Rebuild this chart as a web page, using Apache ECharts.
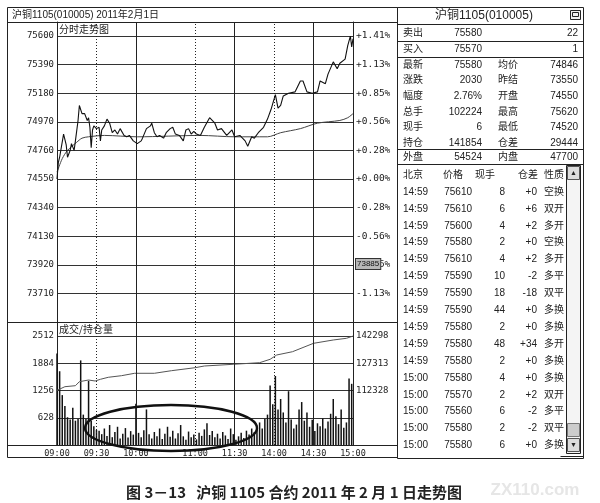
<!DOCTYPE html>
<html>
<head>
<meta charset="utf-8">
<script src="https://cdn.jsdelivr.net/npm/echarts@6/dist/echarts.min.js"></script>
<style>
  html, body { margin: 0; padding: 0; background: #fff; }
  #chart { width: 600px; height: 503px; }
</style>
</head>
<body>
<div id="chart"></div>
<script>
// 分时价格
const priceTimes = ['09:00','09:01','09:02','09:05','09:07','09:08','09:10','09:11','09:13','09:14','09:16','09:17','09:19','09:21','09:23','09:24','09:25','09:26','09:27','09:28','09:30','09:32','09:33','09:34','09:36','09:38','09:40','09:42','09:44','09:46','09:48','09:51','09:53','09:55','09:58','10:01','10:04','10:05','10:08','10:11','10:12','10:14','10:31','10:33','10:36','10:38','10:41','10:43','10:45','10:48','10:51','10:53','10:55','10:57','10:59','11:01','11:04','11:07','11:11','11:15','11:17','11:20','11:24','11:28','11:30','13:34','13:38','13:40','13:43','13:45','13:48','13:52','13:55','13:58','14:01','14:03','14:05','14:07','14:11','14:16','14:20','14:22','14:25','14:29','14:33','14:35','14:39','14:41','14:45','14:48','14:50','14:54','14:56','14:58','14:59','15:00'];
const priceValues = [74550,74670,74710,74880,74800,74710,74760,74810,74760,74830,74980,75090,75030,75030,74980,75000,74930,74780,74910,74940,74920,74930,74830,74910,74940,74990,74960,74890,74910,74880,74920,74870,74860,74870,74830,74810,74830,74850,74920,74940,74960,74890,74860,74870,74850,74890,74920,74930,74880,74870,74830,74910,74920,74880,74900,74880,74870,74930,75000,74960,74910,74920,74870,74910,74860,74870,74830,74790,74860,74850,74890,74930,74990,75070,75170,75070,75090,75160,75180,75190,75270,75270,75190,75180,75190,75270,75250,75320,75410,75360,75400,75430,75530,75600,75520,75580];

// 均价线
const avgTimes = ['09:00','09:04','09:08','09:15','09:19','09:24','09:36','10:01','11:04','11:30','13:55','14:05','14:20','14:33','14:50','14:56','15:00'];
const avgValues = [74600,74700,74760,74820,74850,74860,74870,74860,74870,74860,74860,74890,74920,74960,74980,75000,75030];

// 成交量（每两分钟一根）
const volumeValues = [2110,1700,1150,900,640,590,860,560,600,1950,700,600,1480,560,430,350,330,250,380,210,460,180,300,420,150,260,390,170,320,240,950,280,180,340,820,250,150,300,200,380,140,260,420,190,330,150,270,460,200,120,310,180,240,130,280,210,360,500,230,320,180,260,150,300,220,140,380,250,120,200,280,160,330,240,380,300,450,520,380,600,700,1370,940,1590,820,1060,750,520,1240,590,380,470,820,990,560,750,420,580,320,500,430,610,380,540,720,1060,660,480,820,400,520,1530,1410];

// 持仓量
const oiTimes = ['09:00','09:06','09:14','09:17','09:24','09:29','09:33','09:39','09:49','09:59','10:14','10:42','11:00','11:07','11:29','13:49','13:57','14:02','14:14','14:30','14:45','14:55','15:00'];
const oiValues = [112410,114420,114970,117170,118100,117550,118490,119590,120470,121790,121790,123220,124870,125800,126740,127620,129480,131850,133660,138280,140100,141030,142250];

const axisTimes = ['09:00','09:30','10:00','11:00','11:30','14:00','14:30','15:00'];
const solidTimes = ['10:00','11:30','14:30'];
const dottedTimes = ['09:30','11:00','14:00'];
const priceTicks = [73710,73920,74130,74340,74550,74760,74970,75180,75390,75600];
const volTicks = [628,1256,1884,2512];
const oiTicks = [112328,127313,142298];
const openPrice = 74550;

// 右侧盘口
const bidAsk = [['卖出','75580','22'],['买入','75570','1']];
const quoteRows = [
  ['最新','75580','均价','74846'],
  ['涨跌','2030','昨结','73550'],
  ['幅度','2.76%','开盘','74550'],
  ['总手','102224','最高','75620'],
  ['现手','6','最低','74520'],
  ['持仓','141854','仓差','29444']
];
const outerInner = ['外盘','54524','内盘','47700'];

// 成交明细
const tradeTimes = ['14:59','14:59','14:59','14:59','14:59','14:59','14:59','14:59','14:59','14:59','14:59','15:00','15:00','15:00','15:00','15:00'];
const tradePrices = ['75610','75610','75600','75580','75610','75590','75590','75590','75580','75580','75580','75580','75570','75560','75580','75580'];
const tradeVols = ['8','6','4','2','4','10','18','44','2','48','2','4','2','6','2','6'];
const tradeDiffs = ['+0','+6','+2','+0','+2','-2','-18','+0','+0','+34','+0','+0','+2','-2','-2','+0'];
const tradeTypes = ['空换','双开','多开','空换','多开','多平','双平','多换','多换','多开','多换','多换','双开','多平','双平','多换'];

// 交易时段换算成分钟序号（9:00-10:15, 10:30-11:30, 13:30-15:00）
function toMinute(t) {
  const [h, m] = t.split(':').map(Number);
  const total = h * 60 + m;
  if (total <= 615) return total - 540;
  if (total <= 690) return total - 630 + 75;
  return total - 810 + 135;
}

const MONO = '"DejaVu Sans Mono", monospace';
const SANS = '"Liberation Sans", "Noto Sans CJK SC", sans-serif';
const INK = '#222';

function txt(x, y, s, opt) {
  return {
    type: 'text', x: x, y: y, silent: true, z: 20,
    style: Object.assign({
      text: s, fill: INK, font: '10px ' + SANS,
      align: 'left', verticalAlign: 'middle',
      textAlign: 'left', textVerticalAlign: 'middle'
    }, opt || {})
  };
}
function right(x, y, s, opt) {
  return txt(x, y, s, Object.assign({ align: 'right', textAlign: 'right' }, opt || {}));
}
function hline(x1, x2, y, color) {
  return { type: 'line', silent: true, z: 15, shape: { x1: x1, y1: y, x2: x2, y2: y }, style: { stroke: color || INK, lineWidth: 1 } };
}

function verticalMarks() {
  return {
    silent: true, symbol: ['none', 'none'], label: { show: false }, animation: false,
    data: solidTimes.map(t => ({ xAxis: toMinute(t), lineStyle: { color: INK, width: 1, type: 'solid' } }))
      .concat(dottedTimes.map(t => ({ xAxis: toMinute(t), lineStyle: { color: INK, width: 1, type: [1, 2] } })))
  };
}

const plain = v => String(v);

const graphics = [];
// 左侧框架
graphics.push({ type: 'rect', silent: true, z: 15, shape: { x: 7.5, y: 7.5, width: 390, height: 450 }, style: { fill: 'none', stroke: INK, lineWidth: 1 } });
graphics.push(hline(7.5, 397.5, 22.5));
graphics.push(hline(7.5, 397.5, 322.5));
graphics.push(hline(7.5, 397.5, 445.5));
graphics.push(txt(12, 15, '沪铜1105(010005) 2011年2月1日', { font: '10px ' + SANS }));
graphics.push(txt(59, 29, '分时走势图', { font: '10px "Noto Sans CJK SC", sans-serif' }));
graphics.push(txt(59, 329, '成交/持仓量', { font: '10px "Noto Sans CJK SC", sans-serif' }));
// 光标价格框
graphics.push({
  type: 'text', x: 356, y: 264, silent: true, z: 30,
  style: {
    text: '73885', fill: '#111', font: '8px ' + SANS,
    backgroundColor: '#b8b8b8', borderColor: '#333', borderWidth: 1, padding: [1, 1],
    align: 'left', verticalAlign: 'middle', textAlign: 'left', textVerticalAlign: 'middle'
  }
});
// 手绘椭圆标注
graphics.push({ type: 'ellipse', silent: true, z: 30, shape: { cx: 171, cy: 428, rx: 86, ry: 23 }, style: { fill: 'none', stroke: '#111', lineWidth: 2.4 } });

// 右侧盘口面板
graphics.push({ type: 'rect', silent: true, z: 15, shape: { x: 397.5, y: 7.5, width: 186, height: 451 }, style: { fill: 'none', stroke: INK, lineWidth: 1 } });
graphics.push(txt(484, 16, '沪铜1105(010005)', { font: '12px ' + SANS, align: 'center', textAlign: 'center' }));
graphics.push({ type: 'rect', silent: true, z: 20, shape: { x: 570.5, y: 10.5, width: 10, height: 9 }, style: { fill: '#eee', stroke: INK, lineWidth: 1 } });
graphics.push({ type: 'rect', silent: true, z: 21, shape: { x: 572.5, y: 12.5, width: 6, height: 4 }, style: { fill: 'none', stroke: INK, lineWidth: 1 } });
graphics.push(hline(397.5, 583.5, 24.5));
bidAsk.forEach((r, i) => {
  const y = 33 + i * 16;
  graphics.push(txt(403, y, r[0]));
  graphics.push(right(482, y, r[1]));
  graphics.push(right(578, y, r[2]));
  graphics.push(hline(397.5, 583.5, y + 8.5));
});
quoteRows.forEach((r, i) => {
  const y = 65 + i * 15.6;
  graphics.push(txt(403, y, r[0]));
  graphics.push(right(482, y, r[1]));
  graphics.push(txt(498, y, r[2]));
  graphics.push(right(578, y, r[3]));
});
graphics.push(hline(397.5, 583.5, 149.5));
graphics.push(txt(403, 157, outerInner[0]));
graphics.push(right(482, 157, outerInner[1]));
graphics.push(txt(498, 157, outerInner[2]));
graphics.push(right(578, 157, outerInner[3]));
graphics.push(hline(397.5, 583.5, 164.5));

// 成交明细
graphics.push(txt(403, 175, '北京'));
graphics.push(txt(443, 175, '价格'));
graphics.push(txt(475, 175, '现手'));
graphics.push(txt(518, 175, '仓差'));
graphics.push(txt(544, 175, '性质'));
tradeTimes.forEach((t, i) => {
  const y = 192 + i * 16.9;
  graphics.push(txt(403, y, t));
  graphics.push(right(472, y, tradePrices[i]));
  graphics.push(right(505, y, tradeVols[i]));
  graphics.push(right(537, y, tradeDiffs[i]));
  graphics.push(txt(544, y, tradeTypes[i]));
});
// 滚动条
graphics.push({ type: 'rect', silent: true, z: 16, shape: { x: 566.5, y: 165.5, width: 14, height: 288 }, style: { fill: '#f4f4f4', stroke: INK, lineWidth: 1 } });
graphics.push({ type: 'rect', silent: true, z: 17, shape: { x: 567.5, y: 166.5, width: 12, height: 13 }, style: { fill: '#ddd', stroke: '#555', lineWidth: 1 } });
graphics.push({ type: 'rect', silent: true, z: 17, shape: { x: 567.5, y: 423.5, width: 12, height: 13 }, style: { fill: '#ccc', stroke: '#777', lineWidth: 1 } });
graphics.push({ type: 'rect', silent: true, z: 17, shape: { x: 567.5, y: 438.5, width: 12, height: 13 }, style: { fill: '#ddd', stroke: '#555', lineWidth: 1 } });
graphics.push(txt(573.5, 173, '▲', { font: '7px ' + SANS, align: 'center', textAlign: 'center' }));
graphics.push(txt(573.5, 445, '▼', { font: '7px ' + SANS, align: 'center', textAlign: 'center' }));
graphics.push(hline(560.5, 583.5, 456.5));

// 图题与水印
graphics.push(txt(294, 492, '图 3－13   沪铜 1105 合约 2011 年 2 月 1 日走势图', { font: 'bold 15px "Noto Sans CJK SC", sans-serif', align: 'center', textAlign: 'center' }));
graphics.push(txt(535, 490, 'ZX110.com', { font: 'bold 17px ' + SANS, fill: '#e6e6e6', align: 'center', textAlign: 'center' }));

const chart = echarts.init(document.getElementById('chart'), null, { renderer: 'canvas' });

chart.setOption({
  animation: false,
  backgroundColor: '#fff',
  grid: [
    { left: 57, right: 247, top: 22, height: 300 },
    { left: 57, right: 247, top: 322, height: 123 }
  ],
  xAxis: [{
    gridIndex: 0, type: 'value', min: 0, max: 225,
    axisLine: { show: true, lineStyle: { color: INK, width: 1 } },
    axisTick: { show: false }, axisLabel: { show: false }, splitLine: { show: false }
  }, {
    gridIndex: 1, type: 'value', min: 0, max: 225,
    axisLine: { show: true, lineStyle: { color: INK, width: 1 } },
    axisTick: { show: false }, splitLine: { show: false },
    axisLabel: {
      customValues: axisTimes.map(toMinute),
      formatter: v => axisTimes[axisTimes.map(toMinute).indexOf(v)] || '',
      fontFamily: MONO, fontSize: 8.5, color: INK, margin: 4
    }
  }],
  yAxis: [{
    gridIndex: 0, type: 'value', min: 73500, max: 75703, interval: 210, position: 'left',
    axisLine: { show: true, lineStyle: { color: INK, width: 1 } },
    axisTick: { show: false },
    splitLine: { show: true, lineStyle: { color: '#333', width: 1 } },
    axisLabel: { customValues: priceTicks, formatter: plain, fontFamily: MONO, fontSize: 9, color: INK, margin: 3 }
  }, {
    gridIndex: 0, type: 'value', min: 73500, max: 75703, interval: 210, position: 'right',
    axisLine: { show: true, lineStyle: { color: INK, width: 1 } },
    axisTick: { show: false }, splitLine: { show: false },
    axisLabel: {
      customValues: priceTicks,
      formatter: v => {
        const p = (v - openPrice) / openPrice * 100;
        return (p >= 0 ? '+' : '') + p.toFixed(2) + '%';
      },
      fontFamily: MONO, fontSize: 9.5, color: INK, margin: 3
    }
  }, {
    gridIndex: 1, type: 'value', min: 0, max: 2835, interval: 628, position: 'left',
    axisLine: { show: true, lineStyle: { color: INK, width: 1 } },
    axisTick: { show: false },
    splitLine: { show: true, lineStyle: { color: '#333', width: 1 } },
    axisLabel: { customValues: volTicks, formatter: plain, fontFamily: MONO, fontSize: 9, color: INK, margin: 3 }
  }, {
    gridIndex: 1, type: 'value', min: 82358, max: 149997, position: 'right',
    axisLine: { show: true, lineStyle: { color: INK, width: 1 } },
    axisTick: { show: false }, splitLine: { show: false },
    axisLabel: { customValues: oiTicks, formatter: plain, fontFamily: MONO, fontSize: 9, color: INK, margin: 3 }
  }],
  series: [{
    name: '价格', type: 'line', xAxisIndex: 0, yAxisIndex: 0,
    data: priceTimes.map((t, i) => [toMinute(t), priceValues[i]]),
    symbol: 'none', lineStyle: { color: '#111', width: 1.1 }, z: 5,
    markLine: verticalMarks()
  }, {
    name: '均价', type: 'line', xAxisIndex: 0, yAxisIndex: 0,
    data: avgTimes.map((t, i) => [toMinute(t), avgValues[i]]),
    symbol: 'none', smooth: 0.3, lineStyle: { color: '#444', width: 1 }, z: 4
  }, {
    name: '成交量', type: 'bar', xAxisIndex: 1, yAxisIndex: 2,
    data: volumeValues.map((v, i) => [i * 2, v]),
    barWidth: 1.5, itemStyle: { color: '#111' }, z: 3,
    markLine: verticalMarks()
  }, {
    name: '持仓量', type: 'line', xAxisIndex: 1, yAxisIndex: 3,
    data: oiTimes.map((t, i) => [toMinute(t), oiValues[i]]),
    symbol: 'none', lineStyle: { color: '#555', width: 1 }, z: 4
  }],
  graphic: graphics
});
</script>
</body>
</html>
